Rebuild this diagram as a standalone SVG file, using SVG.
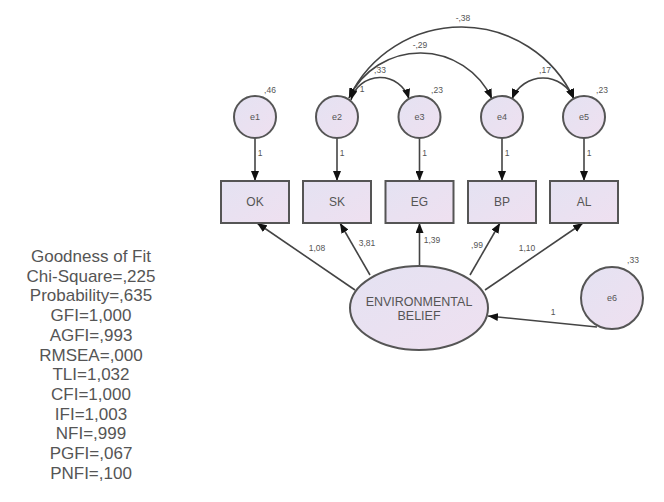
<svg xmlns="http://www.w3.org/2000/svg" width="664" height="502" viewBox="0 0 664 502">
<defs>
<linearGradient id="fillg" x1="0" y1="0" x2="1" y2="1">
<stop offset="0" stop-color="#e4e2f2"/>
<stop offset="1" stop-color="#efe0f0"/>
</linearGradient>
<marker id="ah" viewBox="0 0 10 8" refX="10" refY="4" markerWidth="10" markerHeight="8" markerUnits="userSpaceOnUse" orient="auto-start-reverse">
<path d="M0,0 L10,4 L0,8 Z" fill="#111"/>
</marker>
<style>
.n{fill:url(#fillg);stroke:#555;stroke-width:2}
.c{fill:none;stroke:#444;stroke-width:1.6}
.t{font-family:"Liberation Sans",Arial,sans-serif;fill:#555;text-anchor:middle}
.nt{font-size:12px}
.lb{font-family:"Liberation Sans",Arial,sans-serif;fill:#555;font-size:8.5px;text-anchor:middle}
.fit{font-family:"Liberation Sans",Arial,sans-serif;fill:#555;font-size:17px;text-anchor:middle}
</style>
</defs>
<rect width="664" height="502" fill="#fff"/>

<g id="connectors">
<path class="c" d="M349,98 A124.3,124.3 0 0 1 574,99" marker-start="url(#ah)" marker-end="url(#ah)"/>
<path class="c" d="M349,98 A78.9,78.9 0 0 1 492,99" marker-start="url(#ah)" marker-end="url(#ah)"/>
<path class="c" d="M351,100 A30.1,30.1 0 0 1 409,99" marker-start="url(#ah)" marker-end="url(#ah)"/>
<path class="c" d="M512,99 A33.4,33.4 0 0 1 574,99" marker-start="url(#ah)" marker-end="url(#ah)"/>
<line class="c" x1="255" y1="138" x2="255" y2="181" marker-end="url(#ah)"/>
<line class="c" x1="337" y1="138" x2="337" y2="181" marker-end="url(#ah)"/>
<line class="c" x1="419.5" y1="138" x2="419.5" y2="181" marker-end="url(#ah)"/>
<line class="c" x1="502" y1="138" x2="502" y2="181" marker-end="url(#ah)"/>
<line class="c" x1="584" y1="138" x2="584" y2="181" marker-end="url(#ah)"/>
<line class="c" x1="355" y1="290" x2="257" y2="223" marker-end="url(#ah)"/>
<line class="c" x1="370" y1="275" x2="340" y2="223" marker-end="url(#ah)"/>
<line class="c" x1="419.5" y1="267" x2="419.5" y2="223" marker-end="url(#ah)"/>
<line class="c" x1="470" y1="275" x2="500" y2="223" marker-end="url(#ah)"/>
<line class="c" x1="485" y1="290" x2="583" y2="223" marker-end="url(#ah)"/>
<line class="c" x1="597" y1="327" x2="488" y2="316" marker-end="url(#ah)"/>
<text class="lb" x="463" y="21">-,38</text>
<text class="lb" x="420" y="48">-,29</text>
<text class="lb" x="380" y="73">,33</text>
<text class="lb" x="545" y="73">,17</text>
<text class="lb" x="260" y="156">1</text>
<text class="lb" x="342" y="156">1</text>
<text class="lb" x="424.5" y="156">1</text>
<text class="lb" x="507" y="156">1</text>
<text class="lb" x="589" y="156">1</text>
<text class="lb" x="317" y="251">1,08</text>
<text class="lb" x="367" y="246">3,81</text>
<text class="lb" x="432" y="243">1,39</text>
<text class="lb" x="477" y="248">,99</text>
<text class="lb" x="527" y="251">1,10</text>
<text class="lb" x="553" y="315">1</text>
</g>

<g id="e1"><circle class="n" cx="255" cy="117" r="21"/><text class="t" x="255" y="120" font-size="9">e1</text><text class="lb" x="270" y="93">,46</text></g>
<g id="e2"><circle class="n" cx="337" cy="117" r="21"/><text class="t" x="337" y="120" font-size="9">e2</text><text class="lb" x="362" y="92">1</text></g>
<g id="e3"><circle class="n" cx="419.5" cy="117" r="21"/><text class="t" x="419.5" y="120" font-size="9">e3</text><text class="lb" x="437" y="93">,23</text></g>
<g id="e4"><circle class="n" cx="502" cy="117" r="21"/><text class="t" x="502" y="120" font-size="9">e4</text></g>
<g id="e5"><circle class="n" cx="584" cy="117" r="21"/><text class="t" x="584" y="120" font-size="9">e5</text><text class="lb" x="602" y="93">,23</text></g>

<g id="OK"><rect class="n" x="221" y="181" width="68" height="42"/><text class="t nt" x="255" y="206">OK</text></g>
<g id="SK"><rect class="n" x="303" y="181" width="68" height="42"/><text class="t nt" x="337" y="206">SK</text></g>
<g id="EG"><rect class="n" x="385.5" y="181" width="68" height="42"/><text class="t nt" x="419.5" y="206">EG</text></g>
<g id="BP"><rect class="n" x="468" y="181" width="68" height="42"/><text class="t nt" x="502" y="206">BP</text></g>
<g id="AL"><rect class="n" x="550" y="181" width="68" height="42"/><text class="t nt" x="584" y="206">AL</text></g>

<g id="belief"><ellipse class="n" cx="419" cy="308" rx="69" ry="42"/><text class="t" x="419" y="306" font-size="12.5">ENVIRONMENTAL</text><text class="t" x="419" y="320" font-size="12.5">BELIEF</text></g>

<g id="e6"><circle class="n" cx="612" cy="298" r="31"/><text class="t" x="612" y="301" font-size="9">e6</text><text class="lb" x="633" y="263">,33</text></g>

<g id="fit">
<text class="fit" x="91" y="262">Goodness of Fit</text>
<text class="fit" x="91" y="281.7">Chi-Square=,225</text>
<text class="fit" x="91" y="301.4">Probability=,635</text>
<text class="fit" x="91" y="321.1">GFI=1,000</text>
<text class="fit" x="91" y="340.8">AGFI=,993</text>
<text class="fit" x="91" y="360.5">RMSEA=,000</text>
<text class="fit" x="91" y="380.2">TLI=1,032</text>
<text class="fit" x="91" y="399.9">CFI=1,000</text>
<text class="fit" x="91" y="419.6">IFI=1,003</text>
<text class="fit" x="91" y="439.3">NFI=,999</text>
<text class="fit" x="91" y="459">PGFI=,067</text>
<text class="fit" x="91" y="478.7">PNFI=,100</text>
</g>
</svg>
